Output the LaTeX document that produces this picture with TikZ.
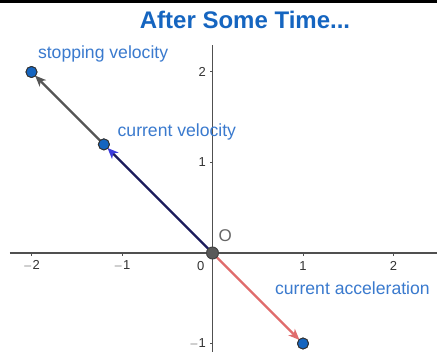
\documentclass[tikz,border=0pt]{standalone}
\usepackage{fontspec}
\setmainfont{Liberation Sans}
\usetikzlibrary{arrows.meta}
\definecolor{ttl}{RGB}{21,101,192}
\definecolor{lbl}{RGB}{58,122,206}
\definecolor{ptfill}{RGB}{21,101,192}
\definecolor{axc}{RGB}{80,80,80}
\definecolor{navy}{RGB}{28,28,92}
\definecolor{tipblue}{RGB}{60,60,220}
\definecolor{grayv}{RGB}{85,85,85}
\definecolor{redv}{RGB}{224,108,108}
\tikzset{
  axis/.style={draw=axc, line width=1.2pt},
  tick/.style={draw=axc, line width=1pt},
  ticklbl/.style={text=black!80, font=\fontsize{13}{14}\selectfont, inner sep=0pt},
  lbltxt/.style={text=lbl, font=\fontsize{17.6}{18}\selectfont, inner sep=0pt, anchor=west},
  pt/.style={circle, draw=black!80, fill=ptfill, line width=0.9pt, minimum size=11pt, inner sep=0pt},
  opt/.style={circle, draw=black!75, fill=black!65, line width=0.9pt, minimum size=12pt, inner sep=0pt},
  vec/.style={line width=2.2pt, shorten >=5pt},
}
\begin{document}
\begin{tikzpicture}[x=1pt,y=-1pt]
\useasboundingbox (0,0) rectangle (437,352);
\fill[white] (0,0) rectangle (437,352);
\draw[line width=2.5pt, black] (0,1.5) -- (437,1.5);
\node[text=ttl, font=\bfseries\fontsize{24}{25}\selectfont] (title) at (245,20) {After Some Time...};
\begin{scope}[shift={(212.5,253)}, x=90.5pt, y=90.5pt]
  \draw[axis] (-2.24,0) -- (2.49,0);
  \draw[axis] (0,-1.09) -- (0,2.3);
  \foreach \i/\t in {-2/{$-$2},-1/{$-$1},1/1,2/2}{
    \draw[tick] (\i,0) -- ++(0,-3pt);
    \node[ticklbl] at (\i,-0.14) {\t};
  }
  \node[ticklbl] at (-0.13,-0.14) {0};
  \foreach \i/\t in {2/2,1/1}{
    \draw[tick] (0,\i) -- ++(-3pt,0);
    \node[ticklbl, anchor=east] at (-0.07,\i) {\t};
  }
  \draw[tick] (0,-1) -- ++(-3pt,0);
  \node[ticklbl, anchor=east] at (-0.07,-1) {$-$1};
  \coordinate (Oc) at (0,0);
  \node[pt] (S) at (-2,2) {};
  \node[pt] (C) at (-1.2,1.2) {};
  \node[pt] (A) at (1,-1) {};
  \draw[vec, navy, -{Stealth[length=11pt,width=9pt,inset=3pt,color=tipblue]}] (Oc) -- (C.center);
  \draw[vec, grayv, -{Stealth[length=11pt,width=9pt,inset=3pt]}] (C.center) -- (S.center);
  \draw[vec, redv, -{Stealth[length=11pt,width=9pt,inset=3pt]}] (Oc) -- (A.center);
  \node[pt] at (S) {};
  \node[pt] at (C) {};
  \node[pt] at (A) {};
  \node[opt] (O) at (Oc) {};
  \node[text=black!60, font=\fontsize{17}{18}\selectfont, inner sep=0pt] (Olbl) at (0.14,0.19) {O};
  \node[lbltxt] (Sl) at (-1.93,2.2) {stopping velocity};
  \node[lbltxt] (Cl) at (-1.05,1.34) {current velocity};
  \node[lbltxt] (Al) at (0.69,-0.39) {current acceleration};
\end{scope}
\end{tikzpicture}
\end{document}
